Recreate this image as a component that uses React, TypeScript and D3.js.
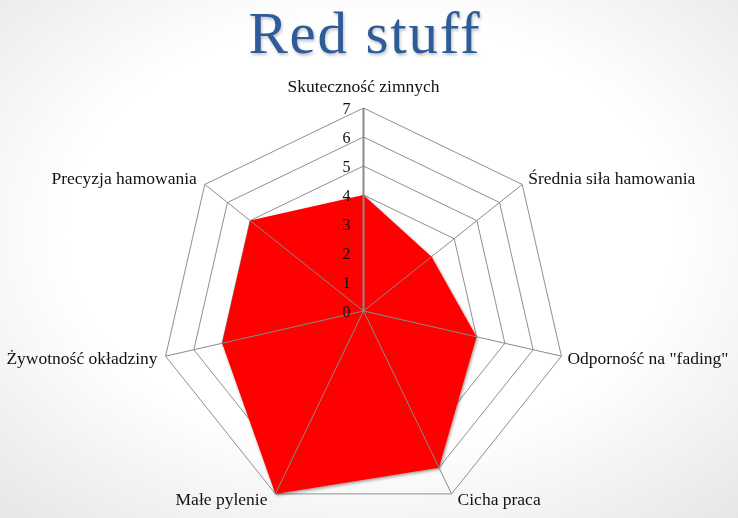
import * as d3 from 'd3';

const axes = [
  'Skuteczność zimnych',
  'Średnia siła hamowania',
  'Odporność na "fading"',
  'Cicha praca',
  'Małe pylenie',
  'Żywotność okładziny',
  'Precyzja hamowania',
];
const values = [4, 3, 4, 6, 7, 5, 5];
const ticks = [0, 1, 2, 3, 4, 5, 6, 7];
const title = 'Red stuff';

const W = 738;
const H = 518;
const cx = 363.5;
const cy = 311;
const font = '"Liberation Serif", "DejaVu Serif", serif';

export default function App() {
  const r = d3.scaleLinear().domain([0, 7]).range([0, 203]);
  const angle = (i: number) => (i * 2 * Math.PI) / axes.length;
  const pt = (i: number, v: number): [number, number] => [
    cx + Math.sin(angle(i)) * r(v),
    cy - Math.cos(angle(i)) * r(v),
  ];

  const radial = d3
    .lineRadial<number>()
    .angle((_, i) => angle(i))
    .radius(v => r(v))
    .curve(d3.curveLinearClosed);

  const ring = (v: number) => radial(axes.map(() => v)) || '';

  return (
    <div style={{ position: 'fixed', left: 0, top: 0 }}>
      <svg width={W} height={H} style={{ display: 'block' }}>
        <defs>
          <radialGradient id="bg" cx="50%" cy="45%" r="75%">
            <stop offset="55%" stopColor="#ffffff" />
            <stop offset="100%" stopColor="#e6e6e6" />
          </radialGradient>
          <filter id="shadow" x="-10%" y="-10%" width="120%" height="120%">
            <feDropShadow dx="1" dy="1.5" stdDeviation="1.5" floodColor="#000" floodOpacity="0.4" />
          </filter>
          <filter id="tshadow" x="-10%" y="-10%" width="120%" height="130%">
            <feDropShadow dx="1" dy="2" stdDeviation="1.5" floodColor="#000" floodOpacity="0.25" />
          </filter>
        </defs>
        <rect width={W} height={H} fill="url(#bg)" />

        <text
          x={W / 2 - 4}
          y={53}
          textAnchor="middle"
          fontFamily={font}
          fontSize={59}
          letterSpacing={1.8}
          fill="#2f5b98"
          filter="url(#tshadow)"
        >
          {title}
        </text>

        <g transform={`translate(${cx},${cy})`}>
          {ticks.slice(1).map(t => (
            <path key={t} d={ring(t)} fill="none" stroke="#8f8f8f" strokeWidth={1} />
          ))}
          <path d={radial(values) || ''} fill="#fe0606" filter="url(#shadow)" />
        </g>

        {axes.map((_, i) => {
          const [x, y] = pt(i, 7);
          return (
            <line
              key={i}
              x1={cx}
              y1={cy}
              x2={x}
              y2={y}
              stroke="#8a8a8a"
              strokeWidth={i === 0 ? 2 : 1}
            />
          );
        })}

        {ticks.map(t => (
          <text
            key={t}
            x={cx - 13}
            y={cy - r(t)}
            dy="0.35em"
            textAnchor="end"
            fontFamily={font}
            fontSize={16}
            fill="#111"
          >
            {t}
          </text>
        ))}

        {axes.map((label, i) => {
          const [x, y] = pt(i, 7);
          const s = Math.sin(angle(i));
          const c = Math.cos(angle(i));
          const anchor = Math.abs(s) < 0.1 ? 'middle' : s > 0 ? 'start' : 'end';
          const lx = x + (Math.abs(s) < 0.1 ? 0 : s > 0 ? 6 : -8);
          const ly = i === 0 ? y - 22 : y - (c > 0 ? 10 : 6) * c;
          return (
            <text
              key={label}
              x={lx}
              y={ly}
              dy="0.35em"
              textAnchor={anchor}
              fontFamily={font}
              fontSize={17.5}
              fill="#111"
            >
              {label}
            </text>
          );
        })}
      </svg>
    </div>
  );
}
